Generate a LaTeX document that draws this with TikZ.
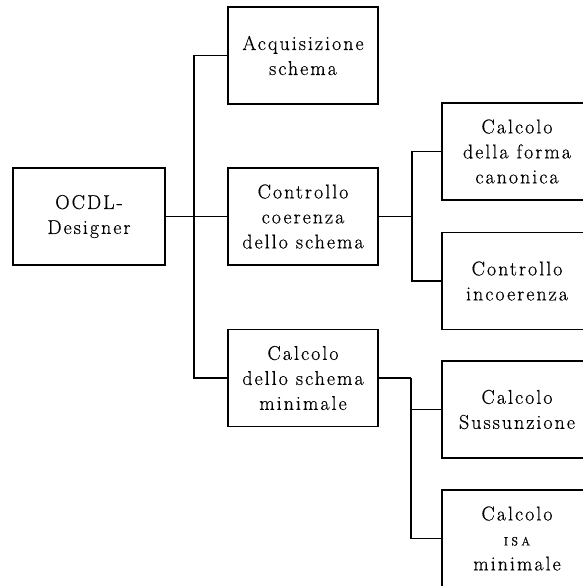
\documentclass[tikz,border=0pt]{standalone}
\usepackage{fontspec}
\setmainfont{Latin Modern Roman}[LetterSpace=10,FakeBold=0.5]
\newcommand{\isatext}{{\fontsize{12}{24}\selectfont\addfontfeatures{LetterSpace=28}ISA}}
\begin{document}
\begin{tikzpicture}[x=1pt,y=-1pt,
  box/.style={draw,line width=1.6pt,rectangle,minimum width=150pt,minimum height=97pt,inner sep=0pt,
    align=center,font=\fontsize{20}{25}\selectfont},
  conn/.style={line width=1.5pt}]
\useasboundingbox (0,0) rectangle (583,586);
\clip (0,0) rectangle (583,586);
\node[box,minimum width=152pt] (ocdl) at (89,216.5) {OCDL-\\Designer};
\node[box] (acq) at (303,55.5) {Acquisizione\\schema};
\node[box] (ctrl) at (303,216.5) {Controllo\\coerenza\\dello schema};
\node[box] (min) at (303,378) {Calcolo\\dello schema\\minimale};
\node[box] (forma) at (517,151.5) {Calcolo\\della forma\\canonica};
\node[box] (incoer) at (517,281) {Controllo\\incoerenza};
\node[box] (suss) at (517,409.5) {Calcolo\\Sussunzione};
\node[box] (isa) at (517,538.5) {Calcolo\\\isatext\\minimale};
\draw[conn] (ocdl.east) -- (ctrl.west);
\draw[conn] (acq.west) -- ++(-33,0) |- (min.west);
\draw[conn] (ctrl.east) -- ++(33,0) coordinate (j1);
\draw[conn] (forma.west) -| (j1) |- (incoer.west);
\draw[conn] (min.east) -- ++(32,0) coordinate (j2);
\draw[conn] (j2) |- (isa.west);
\draw[conn] (suss.west) -- (suss.west -| j2);
\end{tikzpicture}
\end{document}
